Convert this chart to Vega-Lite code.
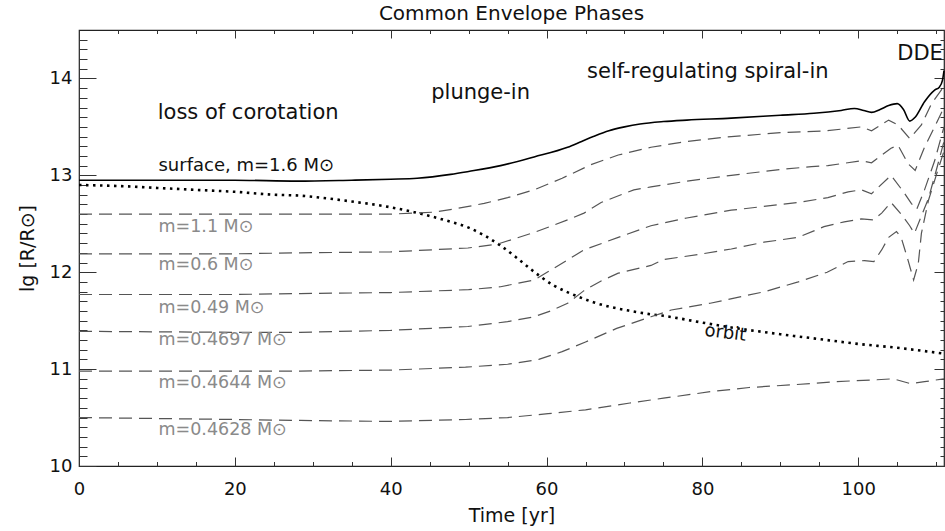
{
  "$schema": "https://vega.github.io/schema/vega-lite/v6.json",
  "width": 865,
  "height": 436,
  "autosize": "none",
  "padding": {"left": 79, "top": 30, "right": 1, "bottom": 65},
  "background": "white",
  "title": {"text": "Common Envelope Phases", "font": "DejaVu Sans", "fontSize": 20, "fontWeight": "normal", "color": "#111", "offset": 6, "anchor": "middle"},
  "config": {
    "view": {"stroke": "#222", "strokeWidth": 1.2},
    "axis": {"domain": false, "grid": false, "tickColor": "#333", "tickWidth": 1, "labelFont": "DejaVu Sans", "labelFontSize": 18, "labelColor": "#111", "labelFlush": false, "labelOverlap": false, "titleFont": "DejaVu Sans", "titleFontWeight": "normal", "titleFontSize": 19, "titleColor": "#111"}
  },
  "resolve": {"axis": {"x": "independent", "y": "independent"}},
  "datasets": {
    "curves": [
      {"s": "surface", "x": 0, "y": 12.95}, {"s": "surface", "x": 10, "y": 12.95}, {"s": "surface", "x": 20, "y": 12.95}, {"s": "surface", "x": 28, "y": 12.94}, {"s": "surface", "x": 35, "y": 12.95}, {"s": "surface", "x": 40, "y": 12.96}, {"s": "surface", "x": 43.4, "y": 12.97}, {"s": "surface", "x": 47.7, "y": 13.01}, {"s": "surface", "x": 50, "y": 13.04}, {"s": "surface", "x": 54.1, "y": 13.1}, {"s": "surface", "x": 58.4, "y": 13.19}, {"s": "surface", "x": 62.7, "y": 13.29}, {"s": "surface", "x": 64.5, "y": 13.35}, {"s": "surface", "x": 66, "y": 13.4}, {"s": "surface", "x": 68, "y": 13.46}, {"s": "surface", "x": 70, "y": 13.5}, {"s": "surface", "x": 72, "y": 13.53}, {"s": "surface", "x": 75, "y": 13.555}, {"s": "surface", "x": 78, "y": 13.57}, {"s": "surface", "x": 83.7, "y": 13.59}, {"s": "surface", "x": 90, "y": 13.62}, {"s": "surface", "x": 94.3, "y": 13.64}, {"s": "surface", "x": 97.8, "y": 13.67}, {"s": "surface", "x": 99.5, "y": 13.69}, {"s": "surface", "x": 100.7, "y": 13.67}, {"s": "surface", "x": 101.7, "y": 13.65}, {"s": "surface", "x": 102.8, "y": 13.68}, {"s": "surface", "x": 103.9, "y": 13.72}, {"s": "surface", "x": 105, "y": 13.74}, {"s": "surface", "x": 105.8, "y": 13.68}, {"s": "surface", "x": 106.6, "y": 13.56}, {"s": "surface", "x": 107.3, "y": 13.6}, {"s": "surface", "x": 108.5, "y": 13.76}, {"s": "surface", "x": 109.8, "y": 13.88}, {"s": "surface", "x": 110.4, "y": 13.91}, {"s": "surface", "x": 110.8, "y": 13.98}, {"s": "surface", "x": 111, "y": 14.08},
      {"s": "orbit", "x": 0, "y": 12.9}, {"s": "orbit", "x": 5, "y": 12.89}, {"s": "orbit", "x": 10, "y": 12.87}, {"s": "orbit", "x": 15, "y": 12.85}, {"s": "orbit", "x": 20, "y": 12.83}, {"s": "orbit", "x": 25, "y": 12.8}, {"s": "orbit", "x": 28.4, "y": 12.79}, {"s": "orbit", "x": 31, "y": 12.77}, {"s": "orbit", "x": 35, "y": 12.73}, {"s": "orbit", "x": 40, "y": 12.67}, {"s": "orbit", "x": 43, "y": 12.62}, {"s": "orbit", "x": 45.5, "y": 12.57}, {"s": "orbit", "x": 47.7, "y": 12.52}, {"s": "orbit", "x": 50, "y": 12.46}, {"s": "orbit", "x": 52, "y": 12.38}, {"s": "orbit", "x": 54, "y": 12.28}, {"s": "orbit", "x": 56.3, "y": 12.14}, {"s": "orbit", "x": 58, "y": 12.03}, {"s": "orbit", "x": 59.3, "y": 11.95}, {"s": "orbit", "x": 61, "y": 11.86}, {"s": "orbit", "x": 62.5, "y": 11.8}, {"s": "orbit", "x": 64, "y": 11.75}, {"s": "orbit", "x": 66, "y": 11.69}, {"s": "orbit", "x": 68.3, "y": 11.64}, {"s": "orbit", "x": 70.8, "y": 11.6}, {"s": "orbit", "x": 73, "y": 11.57}, {"s": "orbit", "x": 75, "y": 11.55}, {"s": "orbit", "x": 80, "y": 11.48}, {"s": "orbit", "x": 83.7, "y": 11.43}, {"s": "orbit", "x": 90, "y": 11.36}, {"s": "orbit", "x": 95, "y": 11.31}, {"s": "orbit", "x": 100, "y": 11.26}, {"s": "orbit", "x": 105, "y": 11.22}, {"s": "orbit", "x": 111, "y": 11.16},
      {"s": "m1.1", "x": 0, "y": 12.6}, {"s": "m1.1", "x": 20, "y": 12.6}, {"s": "m1.1", "x": 40, "y": 12.6}, {"s": "m1.1", "x": 43, "y": 12.61}, {"s": "m1.1", "x": 45.5, "y": 12.62}, {"s": "m1.1", "x": 48, "y": 12.65}, {"s": "m1.1", "x": 52, "y": 12.71}, {"s": "m1.1", "x": 55, "y": 12.77}, {"s": "m1.1", "x": 58.4, "y": 12.85}, {"s": "m1.1", "x": 62, "y": 12.97}, {"s": "m1.1", "x": 65.7, "y": 13.11}, {"s": "m1.1", "x": 69.2, "y": 13.21}, {"s": "m1.1", "x": 73.4, "y": 13.29}, {"s": "m1.1", "x": 78, "y": 13.35}, {"s": "m1.1", "x": 83.7, "y": 13.4}, {"s": "m1.1", "x": 90, "y": 13.44}, {"s": "m1.1", "x": 96, "y": 13.46}, {"s": "m1.1", "x": 100.4, "y": 13.5}, {"s": "m1.1", "x": 101.7, "y": 13.46}, {"s": "m1.1", "x": 103.9, "y": 13.57}, {"s": "m1.1", "x": 105.1, "y": 13.52}, {"s": "m1.1", "x": 106.6, "y": 13.38}, {"s": "m1.1", "x": 108.1, "y": 13.52}, {"s": "m1.1", "x": 109.4, "y": 13.74}, {"s": "m1.1", "x": 111, "y": 13.92},
      {"s": "m0.6", "x": 0, "y": 12.19}, {"s": "m0.6", "x": 20, "y": 12.19}, {"s": "m0.6", "x": 28.4, "y": 12.2}, {"s": "m0.6", "x": 40, "y": 12.21}, {"s": "m0.6", "x": 49.9, "y": 12.25}, {"s": "m0.6", "x": 53.7, "y": 12.29}, {"s": "m0.6", "x": 58.4, "y": 12.41}, {"s": "m0.6", "x": 62.7, "y": 12.54}, {"s": "m0.6", "x": 64.8, "y": 12.61}, {"s": "m0.6", "x": 67, "y": 12.72}, {"s": "m0.6", "x": 71.2, "y": 12.85}, {"s": "m0.6", "x": 73.4, "y": 12.88}, {"s": "m0.6", "x": 78, "y": 12.94}, {"s": "m0.6", "x": 83.7, "y": 13.0}, {"s": "m0.6", "x": 90, "y": 13.06}, {"s": "m0.6", "x": 94, "y": 13.09}, {"s": "m0.6", "x": 96.1, "y": 13.1}, {"s": "m0.6", "x": 100.4, "y": 13.15}, {"s": "m0.6", "x": 101.7, "y": 13.13}, {"s": "m0.6", "x": 104.2, "y": 13.28}, {"s": "m0.6", "x": 105.1, "y": 13.31}, {"s": "m0.6", "x": 106.4, "y": 13.12}, {"s": "m0.6", "x": 107.3, "y": 13.05}, {"s": "m0.6", "x": 108.5, "y": 13.29}, {"s": "m0.6", "x": 109.8, "y": 13.5}, {"s": "m0.6", "x": 111, "y": 13.7},
      {"s": "m0.49", "x": 0, "y": 11.77}, {"s": "m0.49", "x": 20, "y": 11.77}, {"s": "m0.49", "x": 28.4, "y": 11.78}, {"s": "m0.49", "x": 40, "y": 11.79}, {"s": "m0.49", "x": 50, "y": 11.82}, {"s": "m0.49", "x": 54.1, "y": 11.85}, {"s": "m0.49", "x": 58.4, "y": 11.92}, {"s": "m0.49", "x": 60.5, "y": 12.02}, {"s": "m0.49", "x": 64.8, "y": 12.23}, {"s": "m0.49", "x": 69.2, "y": 12.36}, {"s": "m0.49", "x": 73.4, "y": 12.48}, {"s": "m0.49", "x": 78, "y": 12.56}, {"s": "m0.49", "x": 83.7, "y": 12.64}, {"s": "m0.49", "x": 92.3, "y": 12.72}, {"s": "m0.49", "x": 96.1, "y": 12.77}, {"s": "m0.49", "x": 98.7, "y": 12.83}, {"s": "m0.49", "x": 100.4, "y": 12.85}, {"s": "m0.49", "x": 101.7, "y": 12.81}, {"s": "m0.49", "x": 104.2, "y": 13.0}, {"s": "m0.49", "x": 105.8, "y": 12.83}, {"s": "m0.49", "x": 106.8, "y": 12.71}, {"s": "m0.49", "x": 107.5, "y": 12.65}, {"s": "m0.49", "x": 108.5, "y": 12.85}, {"s": "m0.49", "x": 109.8, "y": 13.15}, {"s": "m0.49", "x": 111, "y": 13.5},
      {"s": "m0.4697", "x": 0, "y": 11.39}, {"s": "m0.4697", "x": 20, "y": 11.38}, {"s": "m0.4697", "x": 28.4, "y": 11.38}, {"s": "m0.4697", "x": 40, "y": 11.4}, {"s": "m0.4697", "x": 49.9, "y": 11.44}, {"s": "m0.4697", "x": 55, "y": 11.49}, {"s": "m0.4697", "x": 58.4, "y": 11.54}, {"s": "m0.4697", "x": 60.5, "y": 11.6}, {"s": "m0.4697", "x": 62.7, "y": 11.68}, {"s": "m0.4697", "x": 64.8, "y": 11.81}, {"s": "m0.4697", "x": 67, "y": 11.91}, {"s": "m0.4697", "x": 69.2, "y": 11.99}, {"s": "m0.4697", "x": 73.4, "y": 12.07}, {"s": "m0.4697", "x": 75, "y": 12.13}, {"s": "m0.4697", "x": 80, "y": 12.19}, {"s": "m0.4697", "x": 83.7, "y": 12.24}, {"s": "m0.4697", "x": 87.9, "y": 12.31}, {"s": "m0.4697", "x": 92.3, "y": 12.36}, {"s": "m0.4697", "x": 95.6, "y": 12.47}, {"s": "m0.4697", "x": 98.2, "y": 12.52}, {"s": "m0.4697", "x": 100.4, "y": 12.55}, {"s": "m0.4697", "x": 101.9, "y": 12.54}, {"s": "m0.4697", "x": 103, "y": 12.61}, {"s": "m0.4697", "x": 104.2, "y": 12.72}, {"s": "m0.4697", "x": 105.5, "y": 12.6}, {"s": "m0.4697", "x": 106.6, "y": 12.48}, {"s": "m0.4697", "x": 107.2, "y": 12.4}, {"s": "m0.4697", "x": 108.2, "y": 12.6}, {"s": "m0.4697", "x": 109, "y": 12.76}, {"s": "m0.4697", "x": 110, "y": 13.05}, {"s": "m0.4697", "x": 111, "y": 13.35},
      {"s": "m0.4644", "x": 0, "y": 10.98}, {"s": "m0.4644", "x": 20, "y": 10.98}, {"s": "m0.4644", "x": 28.4, "y": 10.98}, {"s": "m0.4644", "x": 40, "y": 10.99}, {"s": "m0.4644", "x": 49.6, "y": 11.02}, {"s": "m0.4644", "x": 55, "y": 11.05}, {"s": "m0.4644", "x": 59, "y": 11.1}, {"s": "m0.4644", "x": 62, "y": 11.18}, {"s": "m0.4644", "x": 65, "y": 11.28}, {"s": "m0.4644", "x": 69, "y": 11.42}, {"s": "m0.4644", "x": 73.4, "y": 11.54}, {"s": "m0.4644", "x": 76, "y": 11.61}, {"s": "m0.4644", "x": 81, "y": 11.68}, {"s": "m0.4644", "x": 88, "y": 11.8}, {"s": "m0.4644", "x": 92.3, "y": 11.9}, {"s": "m0.4644", "x": 96, "y": 12.0}, {"s": "m0.4644", "x": 98.7, "y": 12.11}, {"s": "m0.4644", "x": 100.8, "y": 12.12}, {"s": "m0.4644", "x": 102, "y": 12.11}, {"s": "m0.4644", "x": 103, "y": 12.23}, {"s": "m0.4644", "x": 103.9, "y": 12.36}, {"s": "m0.4644", "x": 104.9, "y": 12.42}, {"s": "m0.4644", "x": 105.5, "y": 12.36}, {"s": "m0.4644", "x": 106.4, "y": 12.12}, {"s": "m0.4644", "x": 107.1, "y": 11.92}, {"s": "m0.4644", "x": 107.7, "y": 12.09}, {"s": "m0.4644", "x": 108.1, "y": 12.4}, {"s": "m0.4644", "x": 109, "y": 12.74}, {"s": "m0.4644", "x": 110, "y": 13.0}, {"s": "m0.4644", "x": 111, "y": 13.25},
      {"s": "m0.4628", "x": 0, "y": 10.5}, {"s": "m0.4628", "x": 10, "y": 10.49}, {"s": "m0.4628", "x": 20, "y": 10.48}, {"s": "m0.4628", "x": 28.4, "y": 10.47}, {"s": "m0.4628", "x": 40, "y": 10.46}, {"s": "m0.4628", "x": 49.6, "y": 10.48}, {"s": "m0.4628", "x": 55, "y": 10.5}, {"s": "m0.4628", "x": 60.2, "y": 10.54}, {"s": "m0.4628", "x": 65, "y": 10.58}, {"s": "m0.4628", "x": 70.7, "y": 10.65}, {"s": "m0.4628", "x": 75, "y": 10.7}, {"s": "m0.4628", "x": 81.3, "y": 10.77}, {"s": "m0.4628", "x": 86, "y": 10.81}, {"s": "m0.4628", "x": 91.9, "y": 10.84}, {"s": "m0.4628", "x": 97, "y": 10.87}, {"s": "m0.4628", "x": 102.4, "y": 10.89}, {"s": "m0.4628", "x": 104.5, "y": 10.9}, {"s": "m0.4628", "x": 106.7, "y": 10.85}, {"s": "m0.4628", "x": 108.5, "y": 10.87}, {"s": "m0.4628", "x": 111, "y": 10.9}
    ],
    "labels": [
      {"g": "phase", "t": "loss of corotation", "x": 10.1, "y": 13.58},
      {"g": "phase", "t": "plunge-in", "x": 45.2, "y": 13.79},
      {"g": "phase", "t": "self-regulating spiral-in", "x": 65.2, "y": 14.0},
      {"g": "phase", "t": "DDE", "x": 105.0, "y": 14.19},
      {"g": "surface", "t": "surface, m=1.6 M⊙", "x": 10.2, "y": 13.04},
      {"g": "mass", "t": "m=1.1 M⊙", "x": 10.2, "y": 12.415},
      {"g": "mass", "t": "m=0.6 M⊙", "x": 10.2, "y": 12.02},
      {"g": "mass", "t": "m=0.49 M⊙", "x": 10.2, "y": 11.574},
      {"g": "mass", "t": "m=0.4697 M⊙", "x": 10.2, "y": 11.247},
      {"g": "mass", "t": "m=0.4644 M⊙", "x": 10.2, "y": 10.8},
      {"g": "mass", "t": "m=0.4628 M⊙", "x": 10.2, "y": 10.32},
      {"g": "orbit", "t": "orbit", "x": 82.95, "y": 11.37}
    ]
  },
  "layer": [
    {
      "data": {"name": "curves"},
      "transform": [{"filter": "datum.s === 'surface'"}],
      "mark": {"type": "line", "color": "#000", "strokeWidth": 1.6, "interpolate": "monotone"},
      "encoding": {
        "x": {"field": "x", "type": "quantitative", "scale": {"domain": [0, 111], "nice": false, "zero": false},
              "axis": {"orient": "bottom", "values": [0, 20, 40, 60, 80, 100], "tickSize": -9, "labelPadding": 23, "title": "Time [yr]", "titlePadding": 8}},
        "y": {"field": "y", "type": "quantitative", "scale": {"domain": [10, 14.5], "nice": false, "zero": false},
              "axis": {"orient": "left", "values": [10, 11, 12, 13, 14], "tickSize": -17, "labelPadding": 24, "title": "lg [R/R⊙]", "titlePadding": 12}}
      }
    },
    {
      "data": {"name": "curves"},
      "transform": [{"filter": "datum.s === 'orbit'"}],
      "mark": {"type": "line", "color": "#000", "strokeWidth": 2.6, "strokeDash": [2.5, 4.5], "interpolate": "monotone"},
      "encoding": {
        "x": {"field": "x", "type": "quantitative", "scale": {"domain": [0, 111], "nice": false, "zero": false},
              "axis": {"orient": "bottom", "values": [5, 10, 15, 25, 30, 35, 45, 50, 55, 65, 70, 75, 85, 90, 95, 105, 110], "tickSize": -4.5, "labels": false, "title": null}},
        "y": {"field": "y", "type": "quantitative", "scale": {"domain": [10, 14.5], "nice": false, "zero": false},
              "axis": {"orient": "left", "values": [10.1, 10.2, 10.3, 10.4, 10.5, 10.6, 10.7, 10.8, 10.9, 11.1, 11.2, 11.3, 11.4, 11.5, 11.6, 11.7, 11.8, 11.9, 12.1, 12.2, 12.3, 12.4, 12.5, 12.6, 12.7, 12.8, 12.9, 13.1, 13.2, 13.3, 13.4, 13.5, 13.6, 13.7, 13.8, 13.9, 14.1, 14.2, 14.3, 14.4], "tickSize": -8, "labels": false, "title": null}}
      }
    },
    {
      "data": {"name": "curves"},
      "transform": [{"filter": "datum.s !== 'orbit' && datum.s !== 'surface'"}],
      "mark": {"type": "line", "color": "#555", "strokeWidth": 1.2, "strokeDash": [13, 7]},
      "encoding": {
        "detail": {"field": "s"},
        "x": {"field": "x", "type": "quantitative", "scale": {"domain": [0, 111], "nice": false, "zero": false},
              "axis": {"orient": "top", "values": [0, 20, 40, 60, 80, 100], "tickSize": -8, "labels": false, "title": null}},
        "y": {"field": "y", "type": "quantitative", "scale": {"domain": [10, 14.5], "nice": false, "zero": false},
              "axis": {"orient": "right", "values": [10, 11, 12, 13, 14], "tickSize": -10, "labels": false, "title": null}}
      }
    },
    {
      "data": {"name": "labels"},
      "transform": [{"filter": "datum.g === 'phase'"}],
      "mark": {"type": "text", "font": "DejaVu Sans", "fontSize": 21, "color": "#111", "align": "left", "baseline": "alphabetic"},
      "encoding": {
        "text": {"field": "t"},
        "x": {"field": "x", "type": "quantitative", "scale": {"domain": [0, 111], "nice": false, "zero": false},
              "axis": {"orient": "top", "values": [5, 10, 15, 25, 30, 35, 45, 50, 55, 65, 70, 75, 85, 90, 95, 105, 110], "tickSize": -3.5, "labels": false, "title": null}},
        "y": {"field": "y", "type": "quantitative", "scale": {"domain": [10, 14.5], "nice": false, "zero": false},
              "axis": {"orient": "right", "values": [10.1, 10.2, 10.3, 10.4, 10.5, 10.6, 10.7, 10.8, 10.9, 11.1, 11.2, 11.3, 11.4, 11.5, 11.6, 11.7, 11.8, 11.9, 12.1, 12.2, 12.3, 12.4, 12.5, 12.6, 12.7, 12.8, 12.9, 13.1, 13.2, 13.3, 13.4, 13.5, 13.6, 13.7, 13.8, 13.9, 14.1, 14.2, 14.3, 14.4], "tickSize": -4, "labels": false, "title": null}}
      }
    },
    {
      "data": {"name": "labels"},
      "transform": [{"filter": "datum.g === 'surface'"}],
      "mark": {"type": "text", "font": "DejaVu Sans", "fontSize": 18, "color": "#111", "align": "left", "baseline": "alphabetic"},
      "encoding": {
        "text": {"field": "t"},
        "x": {"field": "x", "type": "quantitative", "scale": {"domain": [0, 111], "nice": false, "zero": false}, "axis": null},
        "y": {"field": "y", "type": "quantitative", "scale": {"domain": [10, 14.5], "nice": false, "zero": false}, "axis": null}
      }
    },
    {
      "data": {"name": "labels"},
      "transform": [{"filter": "datum.g === 'mass'"}],
      "mark": {"type": "text", "font": "DejaVu Sans", "fontSize": 17.5, "color": "#8a8a8a", "align": "left", "baseline": "alphabetic"},
      "encoding": {
        "text": {"field": "t"},
        "x": {"field": "x", "type": "quantitative", "scale": {"domain": [0, 111], "nice": false, "zero": false}, "axis": null},
        "y": {"field": "y", "type": "quantitative", "scale": {"domain": [10, 14.5], "nice": false, "zero": false}, "axis": null}
      }
    },
    {
      "data": {"name": "labels"},
      "transform": [{"filter": "datum.g === 'orbit'"}],
      "mark": {"type": "text", "font": "DejaVu Sans", "fontSize": 18, "color": "#111", "align": "center", "baseline": "middle", "angle": 7},
      "encoding": {
        "text": {"field": "t"},
        "x": {"field": "x", "type": "quantitative", "scale": {"domain": [0, 111], "nice": false, "zero": false}, "axis": null},
        "y": {"field": "y", "type": "quantitative", "scale": {"domain": [10, 14.5], "nice": false, "zero": false}, "axis": null}
      }
    }
  ]
}
